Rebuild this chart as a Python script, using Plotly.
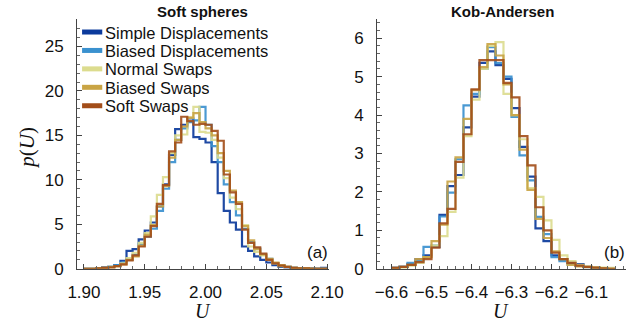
import plotly.graph_objects as go

# ---------------- data ----------------
# Soft spheres: bins of width 0.005 starting at 1.900
ss_start = 1.900
ss_width = 0.005
ss_simple = [0, 0, 0.05, 0.15, 0.2, 0.4, 0.9, 2.0, 2.2, 3.3, 4.3, 5.2, 7.0, 9.5, 12.8, 15.7, 16.2, 16.9, 14.8, 14.6,
             14.2, 12.0, 8.5, 6.5, 5.2, 4.4, 2.5, 2.0, 1.4, 1.0, 0.7, 0.4, 0.2, 0.15, 0.1, 0.05, 0.05, 0.03, 0.02, 0.1]
ss_biased = [0, 0, 0.05, 0.1, 0.2, 0.4, 0.7, 1.0, 1.6, 2.8, 3.6, 4.5, 6.5, 9.0, 12.0, 14.5, 15.8, 16.5, 16.7, 18.2,
             16.2, 13.8, 12.0, 9.5, 7.5, 6.0, 4.5, 3.0, 2.3, 1.6, 1.1, 0.6, 0.35, 0.2, 0.1, 0.05, 0.02, 0, 0, 0]
ss_normal = [0, 0, 0.03, 0.1, 0.2, 0.3, 0.6, 1.2, 1.8, 2.9, 4.0, 5.9, 8.3, 10.3, 13.0, 15.0, 15.1, 17.0, 18.2, 15.4,
             15.3, 14.5, 12.5, 10.2, 8.0, 6.7, 4.9, 2.5, 1.9, 1.5, 1.0, 0.6, 0.3, 0.2, 0.1, 0.05, 0.03, 0, 0, 0]
ss_bswap = [0, 0, 0.05, 0.1, 0.15, 0.3, 0.5, 1.0, 1.4, 2.6, 3.8, 4.9, 7.0, 9.3, 12.5, 14.5, 16.0, 17.0, 17.5, 16.5,
            15.8, 15.0, 13.0, 11.0, 8.8, 7.5, 4.8, 3.2, 2.2, 1.6, 1.1, 0.7, 0.4, 0.2, 0.1, 0.05, 0.03, 0.02, 0, 0]
ss_soft = [0, 0, 0.05, 0.1, 0.15, 0.3, 0.5, 0.95, 1.5, 2.5, 3.6, 4.8, 7.3, 9.4, 13.2, 14.2, 17.1, 16.6, 16.2, 16.3,
           16.2, 15.5, 14.4, 10.6, 8.6, 7.3, 4.4, 2.9, 2.4, 1.7, 1.0, 0.6, 0.35, 0.2, 0.1, 0.05, 0.03, 0, 0, 0]

# Kob-Andersen: bins of width 0.02 starting at -6.60
ka_start = -6.60
ka_width = 0.02
ka_simple = [0.02, 0.05, 0.12, 0.25, 0.35, 0.57, 1.4, 2.15, 2.44, 3.68, 4.48, 5.36, 5.66, 5.3, 4.94, 4.18, 3.17, 2.4,
             1.05, 0.72, 0.35, 0.25, 0.15, 0.12, 0.05, 0.03, 0.01, 0]
ka_biased = [0.02, 0.05, 0.15, 0.2, 0.57, 0.6, 1.36, 1.98, 2.85, 4.25, 4.55, 5.2, 5.77, 5.35, 5.0, 3.95, 2.95, 2.3,
             1.35, 0.9, 0.3, 0.2, 0.12, 0.08, 0.04, 0.02, 0.01, 0]
ka_normal = [0.01, 0.03, 0.08, 0.15, 0.3, 0.6, 0.85, 1.48, 2.37, 3.45, 4.4, 5.2, 5.8, 5.9, 4.55, 4.0, 3.37, 2.1,
             1.87, 1.26, 0.75, 0.35, 0.2, 0.1, 0.06, 0.04, 0.03, 0.02]
ka_bswap = [0.02, 0.05, 0.1, 0.25, 0.3, 0.72, 1.15, 2.27, 2.9, 3.9, 4.65, 5.25, 5.85, 5.55, 4.8, 4.0, 3.1, 2.05,
            1.3, 0.8, 0.45, 0.25, 0.1, 0.06, 0.04, 0.02, 0.01, 0]
ka_soft = [0.02, 0.05, 0.1, 0.17, 0.25, 0.55, 1.18, 1.56, 2.78, 3.5, 4.67, 5.43, 5.43, 5.43, 4.84, 4.46, 3.45, 2.69,
           1.6, 1.0, 0.42, 0.25, 0.15, 0.08, 0.05, 0.03, 0.01, 0]

series_names = ["Simple Displacements", "Biased Displacements", "Normal Swaps", "Biased Swaps", "Soft Swaps"]
series_colors = ["#0b3a9c", "#3a91cf", "#dcdc8e", "#c9a444", "#a24d19"]

ss_all = [ss_simple, ss_biased, ss_normal, ss_bswap, ss_soft]
ka_all = [ka_simple, ka_biased, ka_normal, ka_bswap, ka_soft]


def steps(start, width, vals):
    xs = [round(start + i * width, 6) for i in range(len(vals) + 1)]
    ys = list(vals) + [vals[-1]]
    return xs, ys


fig = go.Figure()
for name, col, ss, ka in zip(series_names, series_colors, ss_all, ka_all):
    x1, y1 = steps(ss_start, ss_width, ss)
    fig.add_trace(go.Scatter(x=x1, y=y1, mode="lines", name=name, line=dict(shape="hv", color=col, width=2.2),
                             opacity=0.9, showlegend=False, xaxis="x", yaxis="y"))
    x2, y2 = steps(ka_start, ka_width, ka)
    fig.add_trace(go.Scatter(x=x2, y=y2, mode="lines", name=name, line=dict(shape="hv", color=col, width=2.2),
                             opacity=0.9, showlegend=False, xaxis="x2", yaxis="y2"))

W, H = 641, 335
L1, R1 = 70, 332
L2, R2 = 382, 641
T, B = 20, 277

TICKFONT = dict(family="Liberation Sans, Arial", size=17, color="#111")


def ax(minor_dtick, tick0=None, standoff=10):
    m = dict(ticks="inside", ticklen=3, tickcolor="#666", dtick=minor_dtick)
    if tick0 is not None:
        m["tick0"] = tick0
    return dict(showline=True, linecolor="#444", linewidth=1.2, ticks="inside", ticklen=5,
                tickcolor="#444", showgrid=False, zeroline=False, tickfont=TICKFONT,
                ticklabelstandoff=standoff, minor=m)


fig.update_layout(
    width=W, height=H, margin=dict(l=0, r=0, t=0, b=0),
    paper_bgcolor="white", plot_bgcolor="white",
    font=dict(family="Liberation Sans, Arial", color="#111"),
    showlegend=False,
    xaxis=dict(domain=[L1 / W, R1 / W], range=[1.8945, 2.1016], tickvals=[1.90, 1.95, 2.00, 2.05, 2.10],
               ticktext=["1.90", "1.95", "2.00", "2.05", "2.10"], anchor="y", **ax(0.01, 1.9, 8)),
    yaxis=dict(domain=[(H - B) / H, (H - T) / H], range=[0, 28.05], dtick=5, anchor="x", **ax(1, None, 9)),
    xaxis2=dict(domain=[L2 / W, R2 / W], range=[-6.636, -6.0136], tickvals=[-6.6, -6.5, -6.4, -6.3, -6.2, -6.1],
                anchor="y2", **ax(0.02, -6.6, 8)),
    yaxis2=dict(domain=[(H - B) / H, (H - T) / H], range=[0, 6.49], dtick=1, anchor="x2", **ax(0.2, None, 9)),
)

ann = []


def add_text(text, x, y, size, family="Liberation Sans, Arial", xanchor="center", angle=0, height=None):
    a = dict(text=text, x=x / W, y=(H - y) / H, xref="paper", yref="paper", showarrow=False,
             xanchor=xanchor, yanchor="middle", textangle=angle, borderpad=0,
             font=dict(size=size, family=family, color="#111"))
    if height is not None:
        a["height"] = height
    ann.append(a)


add_text("<b>Soft spheres</b>", 200, 12, 15)
add_text("<b>Kob-Andersen</b>", 512, 12, 15)
add_text("<i>U</i>", 201, 321, 20, "Liberation Serif, Times New Roman")
add_text("<i>U</i>", 511, 321, 20, "Liberation Serif, Times New Roman")
add_text("<i>p</i>(<i>U</i>)", 18, 152, 21, "Liberation Serif, Times New Roman", angle=-90)
add_text("(a)", 320, 260, 17)
add_text("(b)", 629, 260, 17)

# legend (manual, to match the tight row spacing of the original)
shapes = []
for i, (name, col) in enumerate(zip(series_names, series_colors)):
    yc = 33 + 19 * i
    shapes.append(dict(type="line", xref="paper", yref="paper", x0=75 / W, x1=96 / W,
                       y0=(H - yc) / H, y1=(H - yc) / H, line=dict(color=col, width=5)))
    add_text(name, 98, yc, 16.5, xanchor="left", height=19)

fig.update_layout(annotations=ann, shapes=shapes)

fig.write_html("out.html")
